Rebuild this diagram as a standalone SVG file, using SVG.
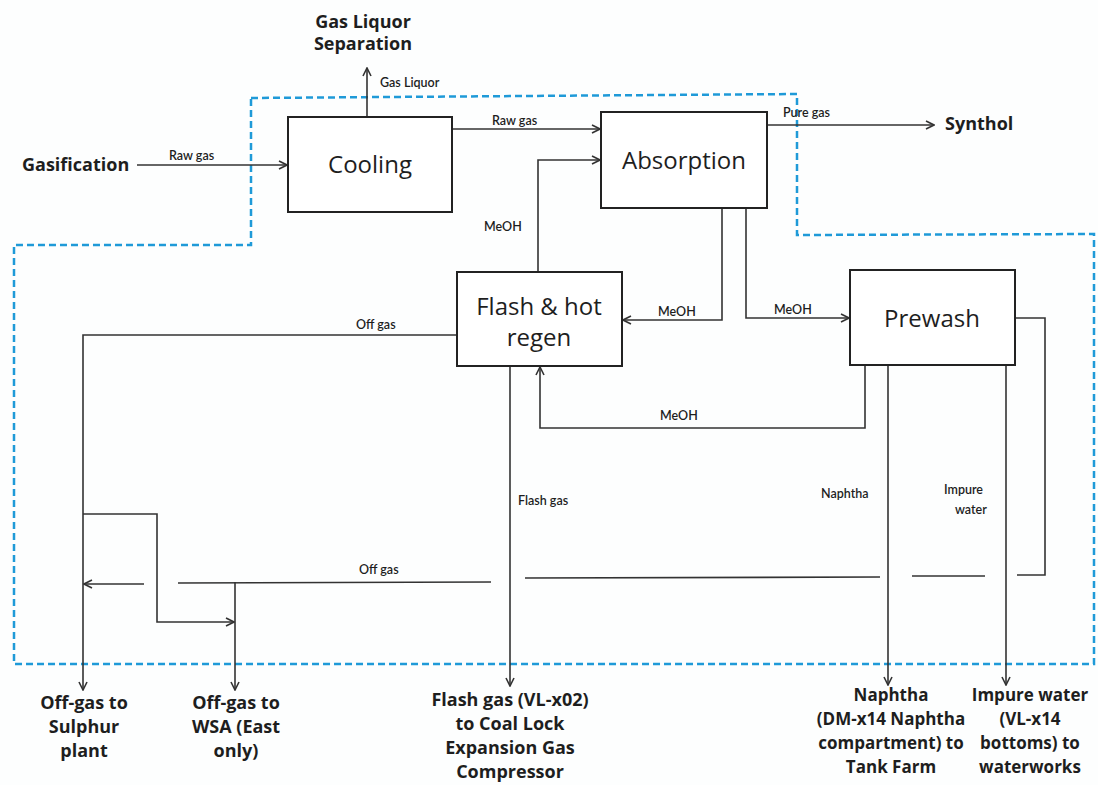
<svg xmlns="http://www.w3.org/2000/svg" width="1098" height="785" viewBox="0 0 1098 785">
<style>
text{font-family:"Open Sans","Liberation Sans",sans-serif;fill:#1e1e1e}
.big{font-size:24px}
.lbl{font-family:"Lato","Liberation Sans",sans-serif;font-size:12.5px;font-weight:600}
.term{font-size:18px;font-weight:bold}
.sm{font-size:17px}
.box{fill:#fff;stroke:#222;stroke-width:2}
.ln{fill:none;stroke:#333;stroke-width:1.6}
.arr{marker-end:url(#ah)}
.bnd{fill:none;stroke:#1f9ad8;stroke-width:2.5;stroke-dasharray:7,4}
</style>
<defs>
<marker id="ah" viewBox="0 0 10 10" refX="9" refY="5" markerWidth="10" markerHeight="10" markerUnits="userSpaceOnUse" orient="auto">
<path d="M1,1 L9,5 L1,9" fill="none" stroke="#333" stroke-width="1.6"/>
</marker>
</defs>
<rect width="1098" height="785" fill="#fdfefe"/>
<path class="bnd" d="M251,98 L797,94 L797,235 L1094,234 L1094,664 L14,664 L14,245 L251,245 Z"/>
<g id="connectors">
<path class="ln arr" d="M137,165 L287,165"/>
<path class="ln arr" d="M367,117 L367,68"/>
<path class="ln arr" d="M452,129 L600,129"/>
<path class="ln arr" d="M538,272 L538,160 L600,160"/>
<path class="ln arr" d="M767,125 L934,125"/>
<path class="ln arr" d="M722,208 L722,320 L623,320"/>
<path class="ln arr" d="M746,208 L746,318 L849,318"/>
<path class="ln arr" d="M865,365 L865,428 L540,428 L540,367"/>
<path class="ln arr" d="M457,335 L83,335 L83,690"/>
<path class="ln arr" d="M83,514 L157,514 L157,622 L234,622"/>
<path class="ln arr" d="M144,584 L84,584"/>
<path class="ln" d="M178,583 L491,582"/>
<path class="ln" d="M525,578 L880,577"/>
<path class="ln" d="M912,576 L985,576"/>
<path class="ln" d="M1017,575 L1045,575 L1045,318 L1015,318"/>
<path class="ln arr" d="M235,582 L235,690"/>
<path class="ln arr" d="M510,366 L510,686"/>
<path class="ln arr" d="M888,365 L888,685"/>
<path class="ln arr" d="M1006,365 L1006,685"/>
<text class="lbl" x="380" y="87">Gas Liquor</text>
<text class="lbl" x="169" y="160">Raw gas</text>
<text class="lbl" x="492" y="125">Raw gas</text>
<text class="lbl" x="484" y="231">MeOH</text>
<text class="lbl" x="783" y="117">Pure gas</text>
<text class="lbl" x="658" y="316">MeOH</text>
<text class="lbl" x="774" y="314">MeOH</text>
<text class="lbl" x="660" y="420">MeOH</text>
<text class="lbl" x="356" y="329">Off gas</text>
<text class="lbl" x="359" y="574">Off gas</text>
<text class="lbl" x="518" y="505">Flash gas</text>
<text class="lbl" x="821" y="498">Naphtha</text>
<text class="lbl" x="944" y="494">Impure</text>
<text class="lbl" x="955" y="514">water</text>
</g>
<g id="cooling"><rect class="box" x="288" y="117" width="164" height="95"/><text class="big" x="370" y="173" text-anchor="middle">Cooling</text></g>
<g id="absorption"><rect class="box" x="601" y="112" width="166" height="96"/><text class="big" x="684" y="169" text-anchor="middle">Absorption</text></g>
<g id="flash"><rect class="box" x="457" y="272" width="165" height="94"/><text class="big" x="539" y="315" text-anchor="middle">Flash &amp; hot</text><text class="big" x="539" y="346" text-anchor="middle">regen</text></g>
<g id="prewash"><rect class="box" x="850" y="270" width="165" height="95"/><text class="big" x="932" y="327" text-anchor="middle">Prewash</text></g>
<g id="gasification"><text class="term" x="22" y="171">Gasification</text></g>
<g id="gasliquorsep"><text class="term" x="363" y="28" text-anchor="middle">Gas Liquor</text><text class="term" x="363" y="50" text-anchor="middle">Separation</text></g>
<g id="synthol"><text class="term" x="945" y="130">Synthol</text></g>
<g id="sulphur"><text class="term" text-anchor="middle" x="84" y="709">Off-gas to</text><text class="term" text-anchor="middle" x="84" y="733">Sulphur</text><text class="term" text-anchor="middle" x="84" y="757">plant</text></g>
<g id="wsa"><text class="term" text-anchor="middle" x="236" y="709">Off-gas to</text><text class="term" text-anchor="middle" x="236" y="733">WSA (East</text><text class="term" text-anchor="middle" x="236" y="757">only)</text></g>
<g id="flashgas"><text class="term" text-anchor="middle" x="510" y="706">Flash gas (VL-x02)</text><text class="term" text-anchor="middle" x="510" y="730">to Coal Lock</text><text class="term" text-anchor="middle" x="510" y="754">Expansion Gas</text><text class="term" text-anchor="middle" x="510" y="778">Compressor</text></g>
<g id="naphtha"><text class="term sm" text-anchor="middle" x="891" y="701">Naphtha</text><text class="term sm" text-anchor="middle" x="891" y="725">(DM-x14 Naphtha</text><text class="term sm" text-anchor="middle" x="891" y="749">compartment) to</text><text class="term sm" text-anchor="middle" x="891" y="773">Tank Farm</text></g>
<g id="impure"><text class="term sm" text-anchor="middle" x="1030" y="701">Impure water</text><text class="term sm" text-anchor="middle" x="1030" y="725">(VL-x14</text><text class="term sm" text-anchor="middle" x="1030" y="749">bottoms) to</text><text class="term sm" text-anchor="middle" x="1030" y="773">waterworks</text></g>
</svg>
